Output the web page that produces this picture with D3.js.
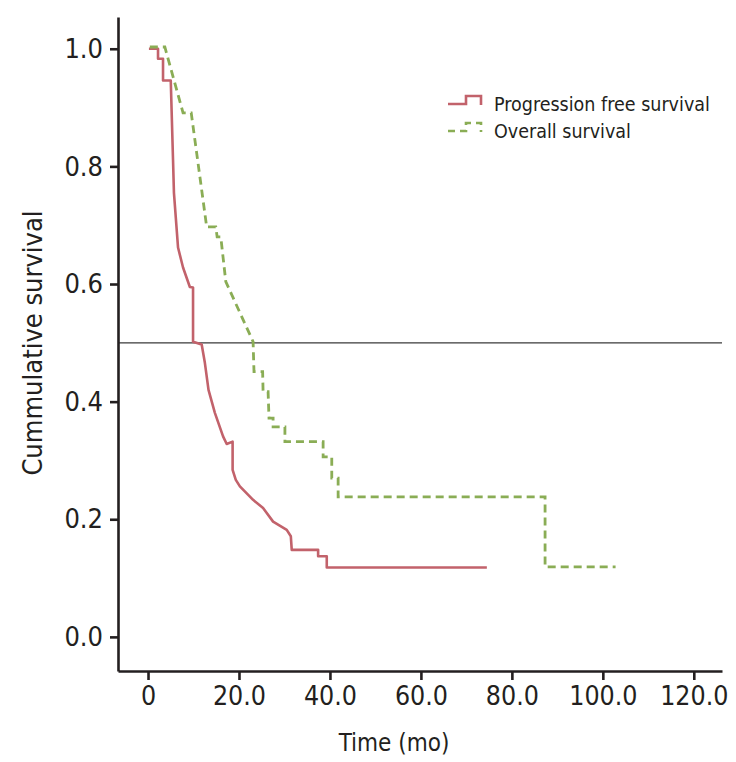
<!DOCTYPE html>
<html>
<head>
<meta charset="utf-8">
<script src="https://cdn.jsdelivr.net/npm/d3@7"></script>
<style>
  body { margin: 0; background: #fff; }
  svg text { font-family: "DejaVu Sans Condensed", "Liberation Sans Narrow", sans-serif; fill: #231f20; }
</style>
</head>
<body>
<div id="chart"></div>
<script>
// values: [months, cumulative survival]
var pfs_points = [
  [0.2, 1.0], [2.2, 1.0], [2.2, 0.983], [3.3, 0.983], [3.3, 0.946], [5.0, 0.946],
  [5.5, 0.811], [5.7, 0.755], [6.6, 0.662], [7.7, 0.628], [9.2, 0.595], [9.9, 0.594],
  [9.9, 0.502], [11.8, 0.497], [12.5, 0.466], [13.3, 0.420], [14.7, 0.381],
  [16.5, 0.341], [17.3, 0.328], [18.6, 0.332], [18.6, 0.284], [19.3, 0.267],
  [20.2, 0.256], [23.1, 0.233], [25.3, 0.219], [27.5, 0.196], [30.5, 0.182],
  [31.4, 0.171], [31.6, 0.148], [37.4, 0.148], [37.4, 0.137], [39.3, 0.137],
  [39.3, 0.118], [74.5, 0.118]
];

var os_points = [
  [0.4, 1.003], [3.7, 1.003], [7.7, 0.891], [9.5, 0.891], [12.9, 0.697], [14.9, 0.697],
  [15.2, 0.680], [16.0, 0.680], [17.1, 0.604], [23.1, 0.502], [23.3, 0.451],
  [25.2, 0.451], [25.3, 0.417], [26.4, 0.417], [26.6, 0.372], [27.5, 0.372],
  [27.5, 0.357], [30.1, 0.357], [30.1, 0.332], [38.5, 0.332], [38.5, 0.306],
  [40.4, 0.306], [40.4, 0.270], [41.8, 0.270], [41.8, 0.238], [87.3, 0.238],
  [87.3, 0.119], [102.8, 0.119]
];

var x_ticks = [0, 20, 40, 60, 80, 100, 120];
var y_ticks = [0, 0.2, 0.4, 0.6, 0.8, 1.0];
var median_line = 0.5;

var series_names = ["Progression free survival", "Overall survival"];
var series_colors = ["#c2626b", "#8aad55"];

var width = 736, height = 762;

var svg = d3.select("#chart").append("svg")
    .attr("width", width)
    .attr("height", height);

var x = d3.scaleLinear().domain([-6.6, 126.2]).range([118, 722]);
var y = d3.scaleLinear().domain([-0.058, 1.054]).range([671, 17]);

// median reference line
svg.append("line")
    .attr("x1", x.range()[0]).attr("x2", x.range()[1])
    .attr("y1", y(median_line)).attr("y2", y(median_line))
    .attr("stroke", "#3a3a3a")
    .attr("stroke-width", 1.3);

var line = d3.line()
    .x(function(d){ return x(d[0]); })
    .y(function(d){ return y(d[1]); });

svg.append("path")
    .datum(pfs_points)
    .attr("d", line)
    .attr("fill", "none")
    .attr("stroke", series_colors[0])
    .attr("stroke-width", 2.6)
    .attr("stroke-linejoin", "round");

svg.append("path")
    .datum(os_points)
    .attr("d", line)
    .attr("fill", "none")
    .attr("stroke", series_colors[1])
    .attr("stroke-width", 2.8)
    .attr("stroke-dasharray", "8,5");

// axes
var xaxis = svg.append("g")
    .attr("transform", "translate(0," + y.range()[0] + ")")
    .call(d3.axisBottom(x)
	  .tickValues(x_ticks)
	  .tickSize(9)
	  .tickSizeOuter(0)
	  .tickPadding(6)
	  .tickFormat(function(d){ return d === 0 ? "0" : d3.format(".1f")(d); }));

var yaxis = svg.append("g")
    .attr("transform", "translate(" + x.range()[0] + ",0)")
    .call(d3.axisLeft(y)
	  .tickValues(y_ticks)
	  .tickSize(8)
	  .tickSizeOuter(0)
	  .tickPadding(7)
	  .tickFormat(d3.format(".1f")));

svg.selectAll(".domain, .tick line")
    .attr("stroke", "#231f20")
    .attr("stroke-width", 2.6);

yaxis.selectAll(".tick text").attr("font-size", 27);
xaxis.selectAll(".tick text").attr("font-size", 26.5);
svg.selectAll(".tick text").style("font-family", null).attr("font-family", null);

// axis titles
svg.append("text")
    .attr("x", 394).attr("y", 751)
    .attr("text-anchor", "middle")
    .attr("font-size", 24)
    .text("Time (mo)");

svg.append("text")
    .attr("transform", "translate(42,343) rotate(-90)")
    .attr("text-anchor", "middle")
    .attr("font-size", 27)
    .text("Cummulative survival");

// legend
var legend = svg.append("g");
var legend_rows = [104, 131];

legend.selectAll("path")
    .data(series_names)
    .enter()
    .append("path")
    .attr("d", function(d, i){
	var b = legend_rows[i];
	return "M448," + b + "H466V" + (b - 8) + "H481V" + (b + 1);
    })
    .attr("fill", "none")
    .attr("stroke", function(d, i){ return series_colors[i]; })
    .attr("stroke-width", 2.6)
    .attr("stroke-dasharray", function(d, i){ return i == 1 ? "7,5" : null; });

legend.selectAll("text")
    .data(series_names)
    .enter()
    .append("text")
    .attr("x", 494)
    .attr("y", function(d, i){ return legend_rows[i] + 7; })
    .attr("font-size", 19.5)
    .text(function(d){ return d; });
</script>
</body>
</html>
